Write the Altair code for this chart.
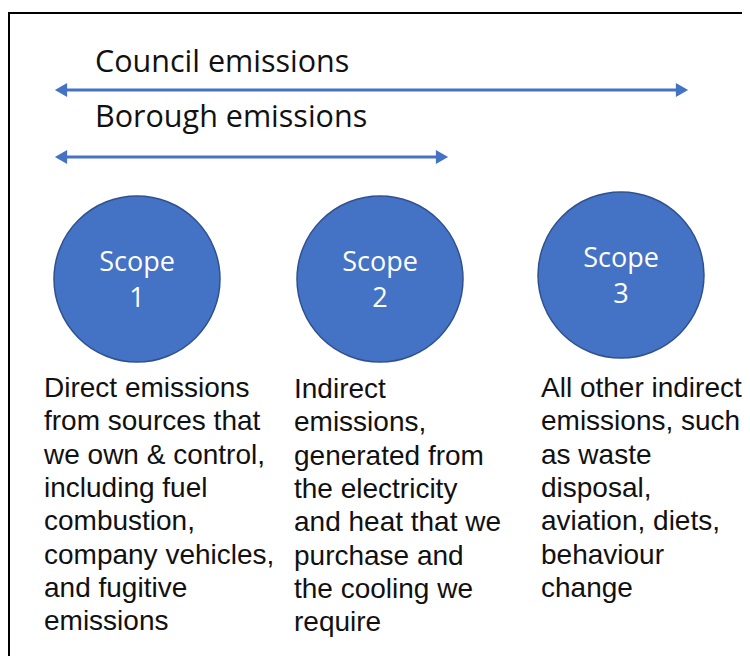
import altair as alt
import pandas as pd

# ---- content ----
range_labels = ["Council emissions", "Borough emissions"]
range_spans = [3, 2]                     # how many scopes each range covers
scope_titles = ["Scope", "Scope", "Scope"]
scope_numbers = ["1", "2", "3"]
descriptions = [
    ["Direct emissions", "from sources that", "we own & control,", "including fuel",
     "combustion,", "company vehicles,", "and fugitive", "emissions"],
    ["Indirect", "emissions,", "generated from", "the electricity",
     "and heat that we", "purchase and", "the cooling we", "require"],
    ["All other indirect", "emissions, such", "as waste", "disposal,",
     "aviation, diets,", "behaviour", "change"],
]

# ---- layout (pixel-like coordinates of the diagram canvas) ----
BLUE = "#4472C4"
DARK = "#2F528F"
circle_x = [137, 380, 621]
circle_y = [279, 279, 275]
circle_d = 166
arrow_left = 55
arrow_right = {3: 688, 2: 448}
arrow_y = [90, 157]
label_base = [72, 127]
desc_x = [44, 294, 541]
desc_y0 = [397, 398, 397]
line_h = 33.3

W, H = 734, 648
xs = alt.Scale(domain=[8, 8 + W])
ys = alt.Scale(domain=[8, 8 + H], reverse=True)

def X(f="x"):
    return alt.X(f"{f}:Q", scale=xs, axis=None)

def Y(f="y"):
    return alt.Y(f"{f}:Q", scale=ys, axis=None)

# border (left and top edges of the framed picture)
border = pd.DataFrame([
    {"x": 9, "x2": 9, "y": 13, "y2": 8 + H},
    {"x": 8, "x2": 8 + W, "y": 13, "y2": 13},
])
border_layer = alt.Chart(border).mark_rule(color="black", strokeWidth=2).encode(
    x=X(), x2="x2:Q", y=Y(), y2="y2:Q")

# arrows
arrows = pd.DataFrame({
    "label": range_labels,
    "x": [arrow_left + 8] * 2,
    "x2": [arrow_right[s] - 8 for s in range_spans],
    "y": arrow_y,
    "lx": [arrow_left] * 2,
    "rx": [arrow_right[s] for s in range_spans],
    "ty": label_base,
})
arrow_lines = alt.Chart(arrows).mark_rule(color=BLUE, strokeWidth=3).encode(
    x=X(), x2="x2:Q", y=Y())
heads_left = alt.Chart(arrows).transform_calculate(hx="datum.lx + 6").mark_point(
    shape="triangle-left", filled=True, color=BLUE, opacity=1, size=200
).encode(x=X("hx"), y=Y())
heads_right = alt.Chart(arrows).transform_calculate(hx="datum.rx - 6").mark_point(
    shape="triangle-right", filled=True, color=BLUE, opacity=1, size=200
).encode(x=X("hx"), y=Y())
arrow_text = alt.Chart(arrows).transform_calculate(tx="95").mark_text(
    align="left", baseline="alphabetic", font="Open Sans", fontSize=30.5, color="#111111"
).encode(x=X("tx"), y=Y("ty"), text="label:N")

# circles
circles = pd.DataFrame({
    "title": scope_titles, "num": scope_numbers,
    "x": circle_x, "y": circle_y,
})
circle_layer = alt.Chart(circles).mark_point(
    shape="circle", filled=True, fill=BLUE, stroke=DARK, strokeWidth=1.5,
    opacity=1, fillOpacity=1, strokeOpacity=1, size=circle_d ** 2
).encode(x=X(), y=Y())
title_layer = alt.Chart(circles).transform_calculate(ty="datum.y - 8").mark_text(
    align="center", baseline="alphabetic", font="Open Sans", fontSize=27, color="white"
).encode(x=X(), y=Y("ty"), text="title:N")
num_layer = alt.Chart(circles).transform_calculate(ty="datum.y + 28").mark_text(
    align="center", baseline="alphabetic", font="Open Sans", fontSize=27, color="white"
).encode(x=X(), y=Y("ty"), text="num:N")

# description lines
rows = []
for i, lines in enumerate(descriptions):
    for j, line in enumerate(lines):
        rows.append({"x": desc_x[i], "y": desc_y0[i] + j * line_h, "text": line})
desc = pd.DataFrame(rows)
desc_layer = alt.Chart(desc).mark_text(
    align="left", baseline="alphabetic", font="Liberation Sans", fontSize=28, color="#111111"
).encode(x=X(), y=Y(), text="text:N")

chart = alt.layer(
    border_layer, arrow_lines, heads_left, heads_right, arrow_text,
    circle_layer, title_layer, num_layer, desc_layer
).properties(
    width=W, height=H, autosize=alt.AutoSizeParams(type="none"), padding=0,
    background="white"
).configure_view(stroke=None)

chart.save("out.html", embed_options={"renderer": "svg", "actions": False})
